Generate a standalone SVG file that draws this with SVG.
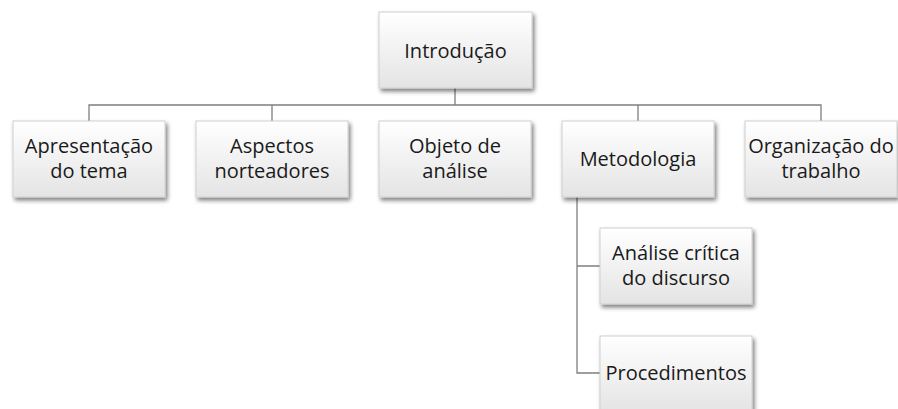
<svg xmlns="http://www.w3.org/2000/svg" width="898" height="409" viewBox="0 0 898 409">
<defs>
<linearGradient id="g" x1="0" y1="0" x2="0" y2="1">
<stop offset="0" stop-color="#ffffff"/>
<stop offset="1" stop-color="#e4e4e4"/>
</linearGradient>
<filter id="sh" x="-10%" y="-10%" width="125%" height="130%">
<feGaussianBlur in="SourceAlpha" stdDeviation="2"/>
<feOffset dx="1.5" dy="2.5" result="b"/>
<feComponentTransfer><feFuncA type="linear" slope="0.5"/></feComponentTransfer>
<feMerge><feMergeNode/><feMergeNode in="SourceGraphic"/></feMerge>
</filter>
</defs>
<style>
.box{fill:url(#g);stroke:#d0d0d0;stroke-width:1;filter:url(#sh)}
.t{font-family:"Open Sans","Liberation Sans",sans-serif;font-size:20px;fill:#1a1a1a;text-anchor:middle}
.c{fill:none;stroke:#7f7f7f;stroke-width:1.3}
</style>
<rect width="898" height="409" fill="#ffffff"/>
<g id="connectors">
<path class="c" d="M455,88 V105 M89,121 V105 H821 V121 M272,105 V121 M638,105 V121 M577,197 V373 H600 M577,266 H600"/>
</g>
<g id="n-introducao"><rect class="box" x="379" y="12" width="153" height="76"/><text class="t" x="455.5" y="58">Introdução</text></g>
<g id="n-apresentacao"><rect class="box" x="13" y="121" width="152" height="76"/><text class="t" x="89" y="153">Apresentação</text><text class="t" x="89" y="178">do tema</text></g>
<g id="n-aspectos"><rect class="box" x="196" y="121" width="152" height="76"/><text class="t" x="272" y="153">Aspectos</text><text class="t" x="272" y="178">norteadores</text></g>
<g id="n-objeto"><rect class="box" x="379" y="121" width="152" height="76"/><text class="t" x="455" y="153">Objeto de</text><text class="t" x="455" y="178">análise</text></g>
<g id="n-metodologia"><rect class="box" x="562" y="121" width="152" height="76"/><text class="t" x="638" y="166">Metodologia</text></g>
<g id="n-organizacao"><rect class="box" x="745" y="121" width="152" height="76"/><text class="t" x="821" y="153">Organização do</text><text class="t" x="821" y="178">trabalho</text></g>
<g id="n-analise"><rect class="box" x="600" y="228" width="152" height="76"/><text class="t" x="676" y="260">Análise crítica</text><text class="t" x="676" y="285">do discurso</text></g>
<g id="n-procedimentos"><rect class="box" x="600" y="336" width="152" height="76"/><text class="t" x="676" y="380">Procedimentos</text></g>
</svg>
